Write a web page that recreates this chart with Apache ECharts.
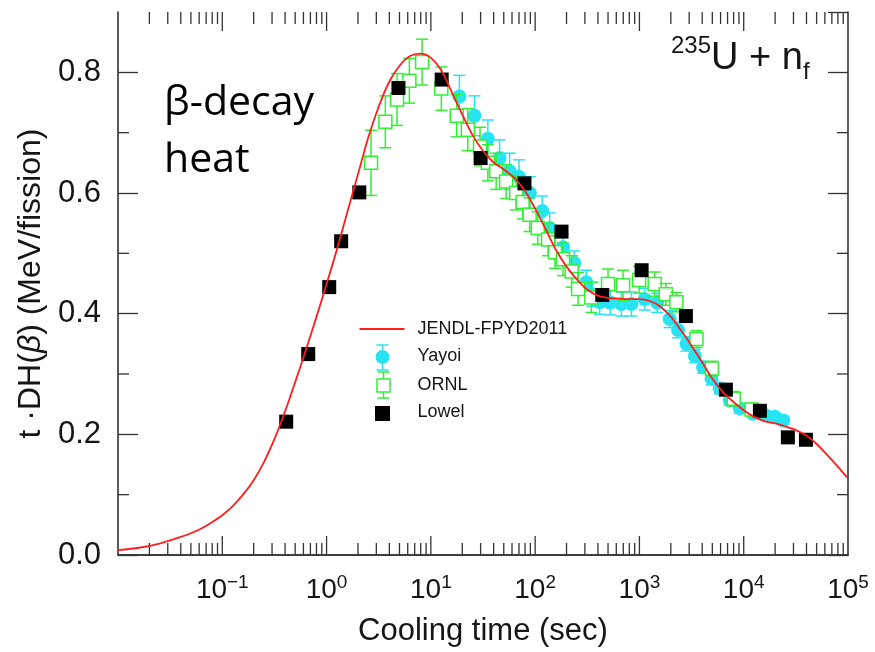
<!DOCTYPE html>
<html>
<head>
<meta charset="utf-8">
<script src="https://cdn.jsdelivr.net/npm/echarts@6/dist/echarts.min.js"></script>
<style>
  html, body { margin: 0; padding: 0; background: #fff; }
  #chart { width: 875px; height: 652px; }
</style>
</head>
<body>
<div id="chart"></div>
<script>
// JENDL-FPYD2011 summation calculation: cooling time (s) vs t*DH(beta) (MeV/fission)
const jendlTime = [0.01, 0.016, 0.025, 0.04, 0.05, 0.063, 0.079, 0.1, 0.126, 0.158, 0.2, 0.251, 0.316, 0.398, 0.501, 0.631, 0.794,
  1, 1.26, 1.58, 2.0, 2.51, 3.16, 3.98, 5.01, 6.31, 7.94,
  10, 12.6, 15.8, 20.0, 25.1, 31.6, 39.8, 50.1, 63.1, 79.4,
  100, 126, 158, 200, 251, 316, 398, 501, 631, 794,
  1000, 1260, 1580, 2000, 2510, 3160, 3980, 5010, 6310, 7940,
  10000, 12600, 15800, 20000, 25100, 31600, 39800, 50100, 63100, 79400, 100000];
const jendlHeat = [0.008, 0.012, 0.019, 0.030, 0.036, 0.044, 0.054, 0.066, 0.081, 0.100, 0.124, 0.154, 0.192, 0.237, 0.287, 0.339, 0.393,
  0.449, 0.507, 0.568, 0.631, 0.692, 0.743, 0.784, 0.811, 0.827, 0.831,
  0.824, 0.803, 0.768, 0.730, 0.696, 0.670, 0.651, 0.639, 0.625, 0.604,
  0.574, 0.540, 0.506, 0.478, 0.457, 0.440, 0.430, 0.426, 0.425, 0.424,
  0.424, 0.421, 0.412, 0.395, 0.372, 0.347, 0.320, 0.292, 0.270, 0.254,
  0.240, 0.229, 0.222, 0.218, 0.213, 0.207, 0.198, 0.184, 0.166, 0.147, 0.127];

// Yayoi measurement
const yayoiTime = [18.8, 26.2, 35.2, 45.6, 56.9, 70, 89, 117, 138, 185, 237, 309, 355, 416, 525, 671, 838,
  1125, 1480, 1950, 2350, 2825, 3400, 4080, 4910, 5900, 7360, 9180, 12300, 15960, 19900, 23900];
const yayoiHeat = [0.760, 0.728, 0.690, 0.658, 0.636, 0.627, 0.600, 0.570, 0.542, 0.510, 0.484, 0.452, 0.432, 0.419, 0.418, 0.416, 0.416,
  0.424, 0.418, 0.391, 0.373, 0.350, 0.330, 0.311, 0.292, 0.276, 0.256, 0.243, 0.234, 0.232, 0.229, 0.223];
const yayoiErr = [0.035, 0.033, 0.031, 0.030, 0.030, 0.028, 0.027, 0.025, 0.025, 0.022, 0.020, 0.020, 0.020, 0.020, 0.020, 0.020, 0.020,
  0.018, 0.016, 0.014, 0.013, 0.012, 0.011, 0.010, 0.010, 0.009, 0.008, 0.008, 0.007, 0.007, 0.007, 0.007];

// ORNL measurement
const ornlTime = [2.67, 3.66, 4.74, 6.22, 8.24, 12.6, 17.7, 22.6, 29.6, 35.2, 42.3, 52.7, 65.8, 75.9, 88.5,
  106, 133, 155, 185, 224, 258, 346, 500, 697, 993, 1400, 1790, 2260, 3520, 4950, 8020, 11900];
const ornlHeat = [0.650, 0.718, 0.755, 0.786, 0.817, 0.773, 0.728, 0.705, 0.677, 0.650, 0.636, 0.619, 0.600, 0.585, 0.564,
  0.542, 0.523, 0.502, 0.490, 0.470, 0.441, 0.427, 0.449, 0.447, 0.456, 0.449, 0.432, 0.419, 0.358, 0.309, 0.259, 0.241];
const ornlErr = [0.054, 0.043, 0.043, 0.037, 0.038, 0.036, 0.035, 0.035, 0.032, 0.030, 0.030, 0.028, 0.028, 0.028, 0.028,
  0.027, 0.027, 0.027, 0.027, 0.026, 0.027, 0.025, 0.025, 0.025, 0.022, 0.020, 0.018, 0.016, 0.014, 0.012, 0.012, 0.010];

// Lowel measurement
const lowelTime = [0.41, 0.667, 1.06, 1.38, 2.06, 4.89, 12.7, 30, 79, 179, 440, 1050, 2790, 6750, 14300, 26500, 39500];
const lowelHeat = [0.221, 0.333, 0.444, 0.520, 0.601, 0.774, 0.788, 0.658, 0.616, 0.536, 0.431, 0.472, 0.396, 0.274, 0.239, 0.195, 0.191];

// Axis ticks
const xLabelExponents = [-1, 0, 1, 2, 3, 4, 5];
const yTickLabels = ['0.0', '0.2', '0.4', '0.6', '0.8'];
const yMinorTicks = [0.1, 0.3, 0.5, 0.7];

const X_MIN = 0.01, X_MAX = 1e5, Y_MIN = 0, Y_MAX = 0.9;
const FRAME = '#333';
const TEXT = '#151515';
const FONT = 'Liberation Sans, Arial, sans-serif';
const RED = '#ff1e1e', CYAN = '#28e4f2', GREEN = '#33ee33';

const zip3 = (a, b, c) => a.map((v, i) => [v, b[i], c[i]]);
const zip2 = (a, b) => a.map((v, i) => [v, b[i]]);

// decade (long) and 2..9 x 10^k (short) tick positions on the time axis: [value, 0, length]
const xFrameTicks = [];
for (let k = -2; k < 5; k++) {
  if (k > -2) xFrameTicks.push([Math.pow(10, k), 0, 19]);
  for (let m = 2; m <= 9; m++) xFrameTicks.push([m * Math.pow(10, k), 0, 12]);
}

function xLabel(value) {
  const e = Math.round(Math.log10(value));
  if (xLabelExponents.indexOf(e) < 0) return '';
  return '{b|10}{s|' + (e < 0 ? '\u2212' + (-e) : e) + '}';
}
function yLabel(value) {
  const i = Math.round(value / 0.2);
  if (Math.abs(value - i * 0.2) < 1e-6 && i < yTickLabels.length) return yTickLabels[i];
  return '';
}

function errorBarItem(kind) {
  return function (params, api) {
    const x = api.value(0), y = api.value(1), e = api.value(2);
    const c = api.coord([x, y]);
    const hi = api.coord([x, y + e]);
    const lo = api.coord([x, y - e]);
    const color = kind === 'circle' ? CYAN : GREEN;
    const cap = 6;
    const lw = 1.5;
    const children = [
      { type: 'line', shape: { x1: c[0], y1: hi[1], x2: c[0], y2: lo[1] }, style: { stroke: color, lineWidth: lw } },
      { type: 'line', shape: { x1: c[0] - cap, y1: hi[1], x2: c[0] + cap, y2: hi[1] }, style: { stroke: color, lineWidth: lw } },
      { type: 'line', shape: { x1: c[0] - cap, y1: lo[1], x2: c[0] + cap, y2: lo[1] }, style: { stroke: color, lineWidth: lw } }
    ];
    if (kind === 'circle') {
      children.push({ type: 'circle', shape: { cx: c[0], cy: c[1], r: 7 }, style: { fill: CYAN } });
    } else {
      children.push({ type: 'rect', shape: { x: c[0] - 6.5, y: c[1] - 6.5, width: 13, height: 13 },
        style: { fill: '#fff', stroke: GREEN, lineWidth: 1.5 } });
    }
    return { type: 'group', children: children };
  };
}

const chart = echarts.init(document.getElementById('chart'), null, { renderer: 'canvas' });

const axisLine = { show: true, lineStyle: { color: FRAME, width: 1.6 } };
const tickStyle = { color: FRAME, width: 1.3 };

const option = {
  animation: false,
  backgroundColor: '#fff',
  grid: { left: 118, right: 27, top: 12, bottom: 95 },
  xAxis: [
    {
      type: 'log', logBase: 10, min: X_MIN, max: X_MAX, splitNumber: 7,
      position: 'bottom',
      axisLine: axisLine,
      axisTick: { show: false },
      splitLine: { show: false },
      axisLabel: {
        margin: 18, formatter: xLabel, showMinLabel: false,
        rich: {
          b: { fontSize: 28, fontFamily: FONT, color: TEXT, lineHeight: 34 },
          s: { fontSize: 19, fontFamily: FONT, color: TEXT, lineHeight: 14, verticalAlign: 'top' }
        }
      },
      name: 'Cooling time (sec)', nameLocation: 'middle', nameGap: 61,
      nameTextStyle: { fontSize: 31, fontFamily: FONT, color: TEXT }
    },
    {
      type: 'log', logBase: 10, min: X_MIN, max: X_MAX, splitNumber: 7,
      position: 'top',
      axisLine: axisLine,
      axisTick: { show: false },
      axisLabel: { show: false },
      splitLine: { show: false }
    }
  ],
  yAxis: [
    {
      type: 'value', min: Y_MIN, max: Y_MAX, interval: 0.2, position: 'left',
      axisLine: axisLine,
      axisTick: { show: true, inside: true, length: 20, lineStyle: tickStyle },
      splitLine: { show: false },
      axisLabel: { formatter: yLabel, showMaxLabel: false, margin: 17, fontSize: 31, fontFamily: FONT, color: TEXT },
      name: '{n|t \u00B7DH(}{i|\u03B2}{n|) (MeV/fission)}',
      nameLocation: 'middle', nameRotate: 90, nameGap: 71,
      nameTextStyle: {
        rich: {
          n: { fontSize: 32, fontFamily: FONT, color: TEXT },
          i: { fontSize: 32, fontFamily: FONT, color: TEXT, fontStyle: 'italic' }
        }
      }
    },
    {
      type: 'value', min: Y_MIN, max: Y_MAX, interval: 0.2, position: 'right',
      axisLine: axisLine,
      axisTick: { show: true, inside: true, length: 20, lineStyle: tickStyle },
      axisLabel: { show: false },
      splitLine: { show: false }
    }
  ],
  graphic: [
    {
      type: 'text', left: 164, top: 75, z: 10,
      style: { text: '\u03B2-decay\nheat', font: '41px "Open Sans", "Noto Sans", sans-serif', lineHeight: 57, fill: '#000' }
    },
    {
      type: 'text', left: 671, top: 34, z: 10,
      style: {
        text: '{sup|235}{m|U + n}{sub|f}',
        rich: {
          sup: { fontSize: 24, fontFamily: FONT, fill: TEXT, lineHeight: 26, verticalAlign: 'top' },
          m: { fontSize: 38, fontFamily: FONT, fill: TEXT, lineHeight: 50 },
          sub: { fontSize: 24, fontFamily: FONT, fill: TEXT, lineHeight: 25, verticalAlign: 'bottom' }
        }
      }
    },
    // legend
    {
      type: 'group', left: 357, top: 320, z: 10,
      children: [
        { type: 'line', shape: { x1: 0, y1: 7, x2: 45, y2: 7 }, style: { stroke: RED, lineWidth: 1.8 } },
        { type: 'text', x: 58, y: 7, style: { text: 'JENDL-FPYD2011', font: '18px ' + FONT, fill: TEXT, verticalAlign: 'middle' } },

        { type: 'line', shape: { x1: 23, y1: 23, x2: 23, y2: 48 }, style: { stroke: CYAN, lineWidth: 1.5 } },
        { type: 'line', shape: { x1: 17, y1: 23, x2: 29, y2: 23 }, style: { stroke: CYAN, lineWidth: 1.5 } },
        { type: 'line', shape: { x1: 17, y1: 48, x2: 29, y2: 48 }, style: { stroke: CYAN, lineWidth: 1.5 } },
        { type: 'circle', shape: { cx: 23, cy: 35, r: 7 }, style: { fill: CYAN } },
        { type: 'text', x: 58, y: 34, style: { text: 'Yayoi', font: '18px ' + FONT, fill: TEXT, verticalAlign: 'middle' } },

        { type: 'line', shape: { x1: 24, y1: 50, x2: 24, y2: 76 }, style: { stroke: GREEN, lineWidth: 1.5 } },
        { type: 'line', shape: { x1: 18, y1: 50, x2: 30, y2: 50 }, style: { stroke: GREEN, lineWidth: 1.5 } },
        { type: 'line', shape: { x1: 18, y1: 76, x2: 30, y2: 76 }, style: { stroke: GREEN, lineWidth: 1.5 } },
        { type: 'rect', shape: { x: 17.5, y: 57, width: 13, height: 13 }, style: { fill: '#fff', stroke: GREEN, lineWidth: 1.5 } },
        { type: 'text', x: 58, y: 63, style: { text: 'ORNL', font: '18px ' + FONT, fill: TEXT, verticalAlign: 'middle' } },

        { type: 'rect', shape: { x: 15.5, y: 84, width: 15, height: 15 }, style: { fill: '#000' } },
        { type: 'text', x: 58, y: 90, style: { text: 'Lowel', font: '18px ' + FONT, fill: TEXT, verticalAlign: 'middle' } }
      ]
    }
  ],
  series: [
    {
      // inward ticks on the bottom and top frame of the time axis
      type: 'custom', silent: true, z: 1, xAxisIndex: 0, yAxisIndex: 0,
      data: xFrameTicks,
      renderItem: function (params, api) {
        const x = api.value(0), len = api.value(2);
        const b = api.coord([x, Y_MIN]);
        const t = api.coord([x, Y_MAX]);
        return {
          type: 'group', children: [
            { type: 'line', shape: { x1: b[0], y1: b[1], x2: b[0], y2: b[1] - len }, style: { stroke: FRAME, lineWidth: 1.3 } },
            { type: 'line', shape: { x1: t[0], y1: t[1], x2: t[0], y2: t[1] + len }, style: { stroke: FRAME, lineWidth: 1.3 } }
          ]
        };
      }
    },
    {
      // short ticks on the left and right frame
      type: 'custom', silent: true, z: 1, xAxisIndex: 0, yAxisIndex: 0,
      data: yMinorTicks.map(v => [X_MIN, v]),
      renderItem: function (params, api) {
        const v = api.value(1);
        const l = api.coord([X_MIN, v]);
        const r = api.coord([X_MAX, v]);
        return {
          type: 'group', children: [
            { type: 'line', shape: { x1: l[0], y1: l[1], x2: l[0] + 11, y2: l[1] }, style: { stroke: FRAME, lineWidth: 1.3 } },
            { type: 'line', shape: { x1: r[0], y1: r[1], x2: r[0] - 11, y2: r[1] }, style: { stroke: FRAME, lineWidth: 1.3 } }
          ]
        };
      }
    },
    {
      name: 'Yayoi', type: 'custom', z: 2, xAxisIndex: 0, yAxisIndex: 0,
      data: zip3(yayoiTime, yayoiHeat, yayoiErr),
      renderItem: errorBarItem('circle')
    },
    {
      name: 'ORNL', type: 'custom', z: 3, xAxisIndex: 0, yAxisIndex: 0,
      data: zip3(ornlTime, ornlHeat, ornlErr),
      renderItem: errorBarItem('square')
    },
    {
      name: 'Lowel', type: 'scatter', z: 4, xAxisIndex: 0, yAxisIndex: 0,
      symbol: 'rect', symbolSize: 14,
      itemStyle: { color: '#000', opacity: 1 },
      data: zip2(lowelTime, lowelHeat)
    },
    {
      name: 'JENDL-FPYD2011', type: 'line', z: 5, xAxisIndex: 0, yAxisIndex: 0,
      smooth: 0.3, showSymbol: false, symbol: 'none',
      lineStyle: { color: RED, width: 1.8 },
      data: zip2(jendlTime, jendlHeat)
    }
  ]
};

chart.setOption(option);
</script>
</body>
</html>
